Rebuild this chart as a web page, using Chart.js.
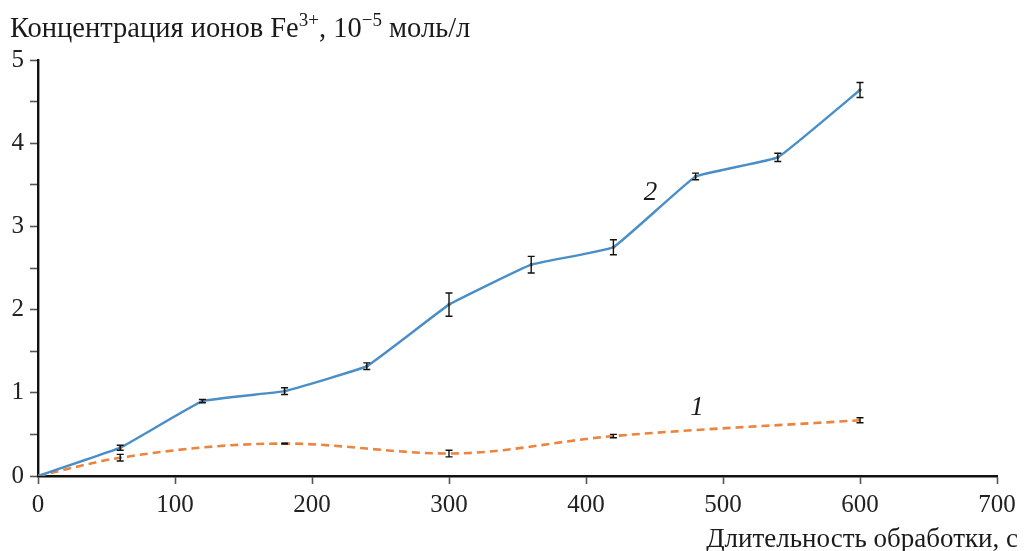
<!DOCTYPE html>
<html><head><meta charset="utf-8">
<script src="https://cdn.jsdelivr.net/npm/chart.js@4/dist/chart.umd.min.js"></script>
<style>html,body{margin:0;padding:0;background:#fff}#wrap{width:1026px;height:551px}</style>
</head><body><div id="wrap"><canvas id="c" width="1026" height="551"></canvas></div>
<script>
const xTime2 = [0, 60, 120, 180, 240, 300, 360, 420, 480, 540, 600];
const conc2 = [0, 0.34, 0.90, 1.02, 1.32, 2.06, 2.54, 2.75, 3.60, 3.83, 4.64];
const err2  = [0, 0.03, 0.02, 0.04, 0.04, 0.14, 0.10, 0.09, 0.04, 0.05, 0.09];
const xTime1 = [0, 60, 180, 300, 420, 600];
const conc1 = [0, 0.22, 0.39, 0.27, 0.48, 0.67];
const err1  = [0, 0.04, 0.005, 0.04, 0.02, 0.03];
const xTicks = [0, 100, 200, 300, 400, 500, 600, 700];
const yTicks = [0, 1, 2, 3, 4, 5];
const curveLabels = [{text: '2', x: 447, y: 3.4}, {text: '1', x: 481, y: 0.82}];
const yTitleParts = [['Концентрация ионов Fe', false], ['3+', true], [', 10', false], ['\u22125', true], [' моль/л', false]];
const xTitle = 'Длительность обработки, с';

const serif = '"Liberation Serif", "Times New Roman", serif';

const errPlugin = {
  id: 'errbars',
  afterDatasetsDraw(chart) {
    const ctx = chart.ctx, xs = chart.scales.x, ys = chart.scales.y;
    ctx.save();
    ctx.strokeStyle = '#111';
    ctx.lineWidth = 1.4;
    const sets = [[xTime1, conc1, err1], [xTime2, conc2, err2]];
    sets.forEach(([xv, yv, ev]) => {
      xv.forEach((x, i) => {
        if (!ev[i]) return;
        const px = xs.getPixelForValue(x);
        const y1 = ys.getPixelForValue(yv[i] + ev[i]);
        const y2 = ys.getPixelForValue(yv[i] - ev[i]);
        ctx.beginPath();
        ctx.moveTo(px, y1); ctx.lineTo(px, y2);
        ctx.moveTo(px - 3.5, y1); ctx.lineTo(px + 3.5, y1);
        ctx.moveTo(px - 3.5, y2); ctx.lineTo(px + 3.5, y2);
        ctx.stroke();
      });
    });
    ctx.fillStyle = '#1a1a1a';
    ctx.font = 'italic 27px ' + serif;
    ctx.textAlign = 'center';
    ctx.textBaseline = 'middle';
    curveLabels.forEach(l => ctx.fillText(l.text, xs.getPixelForValue(l.x), ys.getPixelForValue(l.y)));
    ctx.textAlign = 'left';
    ctx.textBaseline = 'alphabetic';
    let x = 10; const base = 37;
    yTitleParts.forEach(([t, sup]) => {
      ctx.font = (sup ? 19 : 28.5) + 'px ' + serif;
      ctx.fillText(t, x, base + (sup ? -11 : 0));
      x += ctx.measureText(t).width;
    });
    ctx.font = '27px ' + serif;
    ctx.textAlign = 'right';
    ctx.fillText(xTitle, 1018, 547);
    ctx.restore();
  }
};

new Chart(document.getElementById('c'), {
  type: 'line',
  data: {
    datasets: [
      {
        label: '2',
        data: xTime2.map((x, i) => ({x, y: conc2[i]})),
        borderColor: '#4a8ec8',
        borderWidth: 2.4,
        pointRadius: 1.8,
        pointBackgroundColor: '#777',
        pointBorderWidth: 0,
        tension: 0.08
      },
      {
        label: '1',
        data: xTime1.map((x, i) => ({x, y: conc1[i]})),
        borderColor: '#ea843e',
        borderWidth: 2.6,
        borderDash: [8, 5],
        pointRadius: 0,
        cubicInterpolationMode: 'monotone'
      }
    ]
  },
  options: {
    responsive: false,
    animation: false,
    layout: {padding: {left: 0, right: 29, top: 60, bottom: 0}},
    plugins: {legend: {display: false}, tooltip: {enabled: false}},
    scales: {
      x: {
        type: 'linear', min: 0, max: 700,
        afterBuildTicks(s) { s.ticks = xTicks.map(v => ({value: v})); },
        afterFit(s) { s.height = 75; },
        border: {color: '#111', width: 2.4},
        grid: {drawOnChartArea: false, tickLength: 8, color: '#555', tickWidth: 1.6},
        ticks: {color: '#222', font: {family: serif, size: 25}, padding: 6, maxRotation: 0}
      },
      y: {
        type: 'linear', min: 0, max: 5,
        afterBuildTicks(s) { const t = []; for (let v = 0; v <= 5; v += 0.5) t.push({value: v}); s.ticks = t; },
        afterFit(s) { s.width = 38; },
        border: {color: '#111', width: 2.4},
        grid: {drawOnChartArea: false, tickLength: 8, color: '#555', tickWidth: 1.6},
        ticks: {color: '#222', font: {family: serif, size: 25}, padding: 6,
          callback: v => yTicks.includes(v) ? String(v) : ''}
      }
    }
  },
  plugins: [errPlugin]
});
</script></body></html>
